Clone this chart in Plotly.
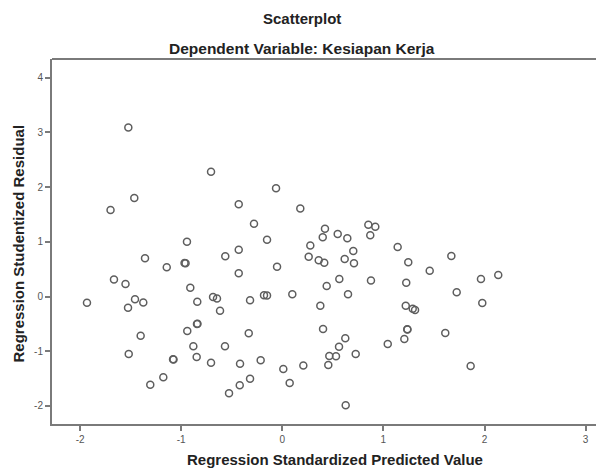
import plotly.graph_objects as go

# Regression Standardized Predicted Value
pred = [
    -1.523, -0.705, -0.062, -1.464, -1.699, -0.431, 0.178, -0.280, 0.422, 0.400,
    -0.151, -0.943, 0.277, -0.431, -0.564, 0.261, 0.360, 0.415, -1.358, -1.143,
    -0.967, -0.957, -0.052, -0.431, -1.665, -1.551, -0.910, 0.439, -1.932, -1.457,
    -1.375, -1.526, -0.841, -0.685, -0.646, -0.616, -0.319, -0.181, -0.151, 0.099,
    0.376, -0.844, -0.839, -0.940, -0.332, -1.401, 0.403, -0.880, -0.567, -1.519,
    -1.081, -1.076, -0.847, -0.705, -0.418, -0.214, 0.465, 0.455, 0.010, 0.208,
    -1.177, -1.306, -0.319, -0.421, -0.527, 0.073, 0.851, 0.920, 0.870, 0.548,
    0.643, 1.141, 0.702, 0.617, 0.709, 1.246, 1.672, 1.458, 0.564, 0.877,
    1.226, 1.965, 2.136, 0.650, 1.725, 1.221, 1.290, 1.313, 1.978, 1.236,
    1.238, 0.623, 1.612, 1.207, 1.043, 0.561, 0.531, 0.726, 1.863, 0.627,
]

# Regression Studentized Residual
resid = [
    3.090, 2.282, 1.978, 1.801, 1.581, 1.686, 1.609, 1.331, 1.239, 1.082,
    1.038, 1.002, 0.932, 0.856, 0.735, 0.728, 0.662, 0.618, 0.698, 0.534,
    0.612, 0.607, 0.545, 0.424, 0.311, 0.229, 0.161, 0.192, -0.113, -0.051,
    -0.110, -0.205, -0.095, -0.009, -0.037, -0.260, -0.069, 0.022, 0.018, 0.040,
    -0.168, -0.503, -0.497, -0.631, -0.673, -0.717, -0.594, -0.910, -0.910, -1.051,
    -1.148, -1.152, -1.106, -1.210, -1.229, -1.166, -1.088, -1.252, -1.325, -1.261,
    -1.477, -1.612, -1.503, -1.623, -1.770, -1.581, 1.313, 1.276, 1.119, 1.143,
    1.064, 0.905, 0.832, 0.686, 0.607, 0.625, 0.740, 0.472, 0.320, 0.293,
    0.252, 0.320, 0.393, 0.040, 0.077, -0.168, -0.223, -0.247, -0.119, -0.600,
    -0.605, -0.764, -0.667, -0.777, -0.868, -0.918, -1.093, -1.051, -1.271, -1.989,
]

x_ticks = [-2, -1, 0, 1, 2, 3]
x_tick_labels = ["-2", "-1", "0", "1", "2", "3"]
y_ticks = [-2, -1, 0, 1, 2, 3, 4]
y_tick_labels = ["-2", "-1", "0", "1", "2", "3", "4"]

title_text = "Scatterplot"
subtitle_text = "Dependent Variable: Kesiapan Kerja"
x_title = "Regression Standardized Predicted Value"
y_title = "Regression Studentized Residual"

FONT = "Liberation Sans, Arial, sans-serif"
AXIS_COLOR = "#7a7a7a"

fig = go.Figure()
fig.add_trace(go.Scatter(
    x=pred, y=resid, mode="markers",
    marker=dict(symbol="circle-open", size=7, color="#5e5e5e",
                line=dict(width=1.5, color="#5e5e5e")),
    hoverinfo="x+y", showlegend=False,
))

axis_common = dict(
    showgrid=False, zeroline=False, showline=True, linecolor=AXIS_COLOR,
    linewidth=2, ticks="outside", ticklen=5, tickwidth=1.5, tickcolor=AXIS_COLOR,
    tickfont=dict(family=FONT, size=10, color="#555555"),
)

fig.update_xaxes(range=[-2.278, 3.182], tickvals=x_ticks, ticktext=x_tick_labels, **axis_common)
fig.update_yaxes(range=[-2.331, 4.342], tickvals=y_ticks, ticktext=y_tick_labels, **axis_common)

fig.add_shape(type="line", xref="paper", yref="paper", x0=0, x1=1, y0=1, y1=1,
              line=dict(color=AXIS_COLOR, width=2))

bold = dict(family=FONT, size=15, color="#222222")
bold_sub = dict(family=FONT, size=15.5, color="#222222")
fig.update_layout(
    # page body has an 8px margin, so the figure is 8px smaller than the window
    width=596, height=462,
    margin=dict(l=44, r=0, t=51, b=46),
    paper_bgcolor="white", plot_bgcolor="white",
    annotations=[
        dict(text="<b>%s</b>" % title_text, xref="paper", yref="paper",
             x=0.453, y=1.112, showarrow=False, xanchor="center", yanchor="middle", font=bold),
        dict(text="<b>%s</b>" % subtitle_text, xref="paper", yref="paper",
             x=0.453, y=1.030, showarrow=False, xanchor="center", yanchor="middle", font=bold_sub),
        dict(text="<b>%s</b>" % x_title, xref="paper", yref="paper",
             x=0.512, y=-0.096, showarrow=False, xanchor="center", yanchor="middle", font=bold),
        dict(text="<b>%s</b>" % y_title, xref="paper", yref="paper",
             x=-0.0598, y=0.4945, showarrow=False, xanchor="center", yanchor="middle",
             textangle=-90, font=bold),
    ],
)

fig.write_html("out.html")
